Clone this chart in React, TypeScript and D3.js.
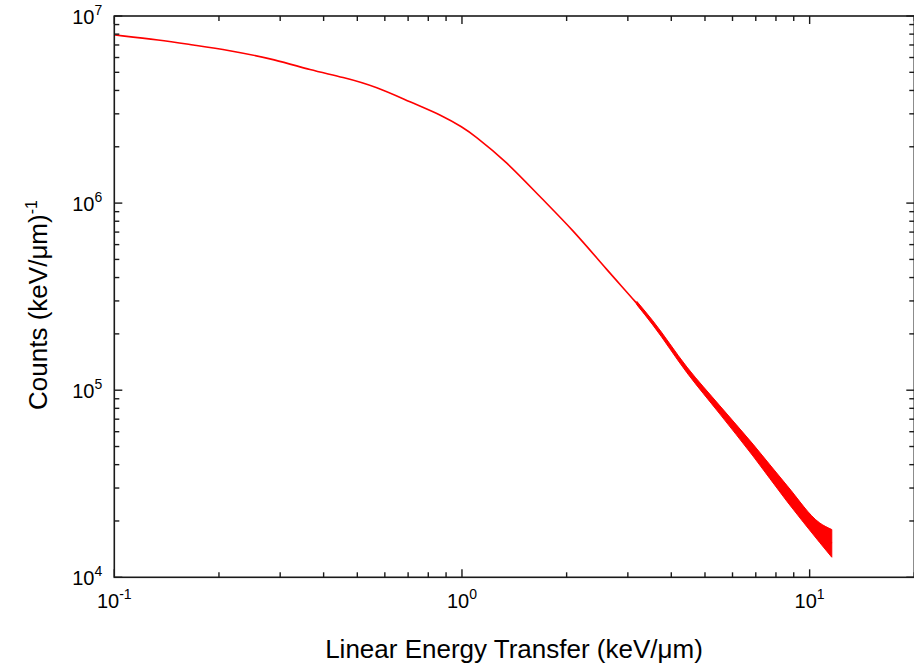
import React, { useEffect, useRef } from 'react';
import * as d3 from 'd3';

// LET spectrum (keV/um vs counts per keV/um)
const letValues = [
  0.1005, 0.1353, 0.1684, 0.211, 0.2938, 0.3654, 0.4548, 0.5694, 0.7087, 0.8818,
  1.007, 1.076, 1.347, 1.676, 2.086, 2.612, 3.186, 3.54, 4.436, 5.52, 6.87, 8.6,
  10.7, 11.58,
];
const countValues = [
  7.91e6, 7.45e6, 7.0e6, 6.59e6, 5.83e6, 5.14e6, 4.72e6, 4.18e6, 3.47e6, 2.93e6,
  2.53e6, 2.33e6, 1.66e6, 1.08e6, 7.18e5, 4.39e5, 2.92e5, 2.29e5, 1.28e5, 7.84e4,
  4.79e4, 2.82e4, 1.73e4, 1.52e4,
];

// spread of the noisy tail (lower / upper envelope seen in the picture)
const tailLet = [3.186, 3.54, 4.436, 5.52, 6.87, 8.6, 10.7, 11.58];
const tailLow = [2.86e5, 2.23e5, 1.24e5, 7.45e4, 4.45e4, 2.55e4, 1.53e4, 1.28e4];
const tailHigh = [2.98e5, 2.35e5, 1.33e5, 8.25e4, 5.15e4, 3.1e4, 1.95e4, 1.8e4];

const xDomain = [0.1, 20];
const yDomain = [1e4, 1e7];
const xMajorTicks = [0.1, 1, 10];
const xMajorExp = ['-1', '0', '1'];
const yMajorTicks = [1e4, 1e5, 1e6, 1e7];
const yMajorExp = ['4', '5', '6', '7'];

const xTitle = 'Linear Energy Transfer (keV/\u03bcm)';
const yTitle = 'Counts (keV/\u03bcm)';
const yTitleSup = '-1';

const W = 914;
const H = 671;
const FONT = '"Liberation Sans", Arial, Helvetica, sans-serif';

const minorTicks = (lo: number, hi: number) => {
  const out: number[] = [];
  for (let e = Math.floor(Math.log10(lo)); e < Math.ceil(Math.log10(hi)); e += 1) {
    for (let m = 2; m <= 9; m += 1) {
      const v = m * Math.pow(10, e);
      if (v > lo && v < hi * 1.0001) out.push(v);
    }
  }
  return out;
};

const LetChart = () => {
  const svgRef = useRef<SVGSVGElement | null>(null);

  useEffect(() => {
    const svg = d3.select(svgRef.current);
    svg.selectAll('*').remove();

    const left = 114.3;
    const right = 914.3;
    const top = 16;
    const bottom = 577.3;

    const x = d3.scaleLog().domain(xDomain).range([left, right]);
    const y = d3.scaleLog().domain(yDomain).range([bottom, top]);

    svg.append('rect').attr('width', W).attr('height', H).attr('fill', '#fff');

    // noisy tail envelope
    const band = d3
      .area<number>()
      .x((_, i) => x(tailLet[i]))
      .y0((_, i) => y(tailLow[i]))
      .y1((_, i) => y(tailHigh[i]))
      .curve(d3.curveMonotoneX);
    svg
      .append('path')
      .attr('d', band(tailLet.map((_, i) => i)))
      .attr('fill', '#ff0000')
      .attr('stroke', '#ff0000')
      .attr('stroke-width', 1);

    const line = d3
      .line<number>()
      .x((_, i) => x(letValues[i]))
      .y((_, i) => y(countValues[i]))
      .curve(d3.curveBasis);
    svg
      .append('path')
      .attr('d', line(letValues.map((_, i) => i)))
      .attr('fill', 'none')
      .attr('stroke', '#ff0000')
      .attr('stroke-width', 1.6);

    const axisColor = '#1a1a1a';
    const frame = svg.append('g').attr('stroke', axisColor).attr('stroke-width', 1.6).attr('fill', 'none');
    frame.append('rect').attr('x', left).attr('y', top).attr('width', right - left).attr('height', bottom - top);

    const ticks = svg.append('g').attr('stroke', axisColor).attr('stroke-width', 1.4);
    const major = 8;
    const minor = 5;
    const xMinor = minorTicks(xDomain[0], xDomain[1]);
    const yMinor = minorTicks(yDomain[0], yDomain[1]);

    const vTick = (v: number, len: number) => {
      ticks.append('line').attr('x1', x(v)).attr('x2', x(v)).attr('y1', bottom).attr('y2', bottom - len);
      ticks.append('line').attr('x1', x(v)).attr('x2', x(v)).attr('y1', top).attr('y2', top + len);
    };
    const hTick = (v: number, len: number) => {
      ticks.append('line').attr('y1', y(v)).attr('y2', y(v)).attr('x1', left).attr('x2', left + len);
      ticks.append('line').attr('y1', y(v)).attr('y2', y(v)).attr('x1', right).attr('x2', right - len);
    };
    xMajorTicks.forEach((v) => vTick(v, major));
    xMinor.forEach((v) => vTick(v, minor));
    yMajorTicks.forEach((v) => hTick(v, major));
    yMinor.forEach((v) => hTick(v, minor));

    const labels = svg.append('g').attr('font-family', FONT).attr('fill', '#000');

    xMajorTicks.forEach((v, i) => {
      const t = labels
        .append('text')
        .attr('x', x(v))
        .attr('y', bottom + 31)
        .attr('text-anchor', 'middle')
        .attr('font-size', 20);
      t.append('tspan').text('10');
      t.append('tspan').attr('dy', -9).attr('font-size', 14).text(xMajorExp[i]);
    });

    yMajorTicks.forEach((v, i) => {
      const t = labels
        .append('text')
        .attr('x', left - 12)
        .attr('y', y(v) + 8)
        .attr('text-anchor', 'end')
        .attr('font-size', 20);
      t.append('tspan').text('10');
      t.append('tspan').attr('dy', -9).attr('font-size', 14).text(yMajorExp[i]);
    });

    labels
      .append('text')
      .attr('x', 514)
      .attr('y', 658)
      .attr('text-anchor', 'middle')
      .attr('font-size', 26)
      .text(xTitle);

    const yt = labels
      .append('text')
      .attr('transform', 'translate(47,305) rotate(-90)')
      .attr('text-anchor', 'middle')
      .attr('font-size', 26);
    yt.append('tspan').text(yTitle);
    yt.append('tspan').attr('dy', -10).attr('font-size', 16).text(yTitleSup);
  }, []);

  return <svg ref={svgRef} width={W} height={H} style={{ position: 'absolute', left: 0, top: 0 }} />;
};

export default function App() {
  return <LetChart />;
}
